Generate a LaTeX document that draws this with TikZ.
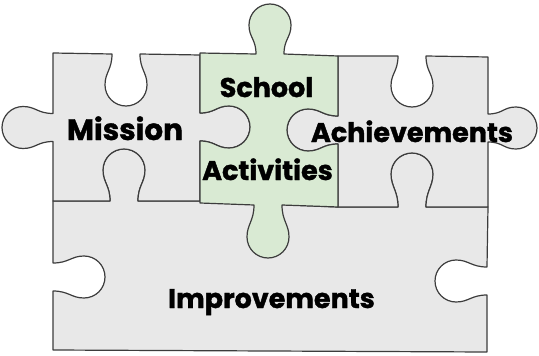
\documentclass[tikz,border=0pt]{standalone}
\usepackage{fontspec}
\setmainfont{Poppins}[BoldFeatures={FakeBold=1.3}]
\definecolor{piecegray}{HTML}{E8E8E8}
\definecolor{piecegreen}{HTML}{D9EAD3}
\definecolor{pieceline}{HTML}{3C3C3C}
% knob dimensions: half width of the neck and radius of the bulb
\newcommand\pzNeck{14}
\newcommand\pzBulb{21}
% \pzknob{cx}{cy}{ux}{uy}{vx}{vy}{depth}: a puzzle knob centred on (cx,cy),
% the edge running along (ux,uy), the knob pointing along (vx,vy)
\newcommand\pzknob[7]{%
 -- ({#1-\pzNeck*(#3)},{#2-\pzNeck*(#4)})
 .. controls ({#1-\pzNeck*(#3)+0.3*#7*(#5)},{#2-\pzNeck*(#4)+0.3*#7*(#6)})
 and ({#1-\pzBulb*(#3)+(#7-1.6*\pzBulb)*(#5)},{#2-\pzBulb*(#4)+(#7-1.6*\pzBulb)*(#6)})
 .. ({#1-\pzBulb*(#3)+(#7-\pzBulb)*(#5)},{#2-\pzBulb*(#4)+(#7-\pzBulb)*(#6)})
 .. controls ({#1-\pzBulb*(#3)+(#7-0.448*\pzBulb)*(#5)},{#2-\pzBulb*(#4)+(#7-0.448*\pzBulb)*(#6)})
 and ({#1-0.552*\pzBulb*(#3)+#7*(#5)},{#2-0.552*\pzBulb*(#4)+#7*(#6)})
 .. ({#1+#7*(#5)},{#2+#7*(#6)})
 .. controls ({#1+0.552*\pzBulb*(#3)+#7*(#5)},{#2+0.552*\pzBulb*(#4)+#7*(#6)})
 and ({#1+\pzBulb*(#3)+(#7-0.448*\pzBulb)*(#5)},{#2+\pzBulb*(#4)+(#7-0.448*\pzBulb)*(#6)})
 .. ({#1+\pzBulb*(#3)+(#7-\pzBulb)*(#5)},{#2+\pzBulb*(#4)+(#7-\pzBulb)*(#6)})
 .. controls ({#1+\pzBulb*(#3)+(#7-1.6*\pzBulb)*(#5)},{#2+\pzBulb*(#4)+(#7-1.6*\pzBulb)*(#6)})
 and ({#1+\pzNeck*(#3)+0.3*#7*(#5)},{#2+\pzNeck*(#4)+0.3*#7*(#6)})
 .. ({#1+\pzNeck*(#3)},{#2+\pzNeck*(#4)})
}
\begin{document}
\begin{tikzpicture}[x=1pt,y=-1pt,
  piece/.style={draw=pieceline,line width=1.2pt,line join=round,fill=piecegray},
  greenpiece/.style={piece,fill=piecegreen},
  label/.style={font=\bfseries\fontsize{27}{27}\selectfont,text=black,anchor=base,inner sep=0pt},
  biglabel/.style={label,font=\bfseries\fontsize{29.5}{29.5}\selectfont}]
\useasboundingbox (0,0) rectangle (539,356);
\fill[white] (0,0) rectangle (539,356);

% bottom piece
\draw[piece] (53,201) \pzknob{124}{201}{1}{0}{0}{-1}{52} -- (200,201) -- (338,207)
  \pzknob{412}{207}{1}{0}{0}{-1}{54} -- (488,207)
  \pzknob{487}{281}{0}{1}{-1}{0}{52} -- (487,352) -- (53,350)
  \pzknob{53}{277}{0}{-1}{1}{0}{52} -- cycle;

% left piece
\draw[piece] (53,53) \pzknob{126}{54}{1}{0}{0}{1}{52} -- (200,55)
  \pzknob{200}{127}{0}{1}{1}{0}{50} -- (200,201)
  \pzknob{124}{201}{-1}{0}{0}{-1}{52} -- (53,201)
  \pzknob{53}{127.5}{0}{-1}{-1}{0}{51} -- cycle;

% right piece
\draw[piece] (338,56) \pzknob{412}{56}{1}{0}{0}{1}{51} -- (488,57)
  \pzknob{488}{128}{0}{1}{1}{0}{49} -- (488,207)
  \pzknob{412}{207}{-1}{0}{0}{-1}{54} -- (338,207)
  \pzknob{338}{130}{0}{-1}{-1}{0}{51} -- cycle;

% middle piece
\draw[greenpiece] (200,53) \pzknob{270}{54}{1}{0}{0}{-1}{50} -- (338,56)
  \pzknob{338}{130}{0}{1}{-1}{0}{51} -- (338,207)
  \pzknob{268}{205}{-1}{0}{0}{1}{53} -- (200,203)
  \pzknob{200}{127}{0}{-1}{1}{0}{50} -- cycle;

% labels
\node[biglabel] (mission) at (125,140) {Mission};
\node[label] (school) at (266.5,97) {School};
\node[label] (activities) at (267.5,180) {Activities};
\node[label] (achievements) at (412,142) {Achievements};
\node[label] (improvements) at (271.5,308) {Improvements};
\end{tikzpicture}
\end{document}
